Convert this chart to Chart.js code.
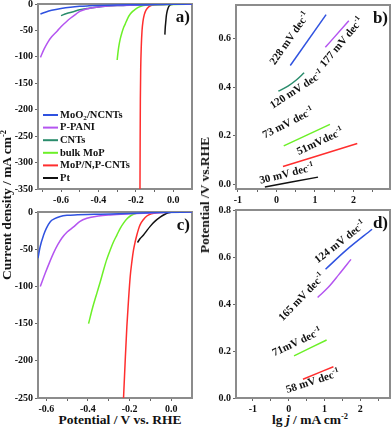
<!DOCTYPE html>
<html>
<head>
<meta charset="utf-8">
<script src="https://cdn.jsdelivr.net/npm/chart.js@4.4.0/dist/chart.umd.min.js"></script>
<style>
  body { margin:0; background:#fff; width:392px; height:430px; position:relative; overflow:hidden; font-family:"Liberation Serif","Times New Roman",serif; }
  canvas { position:absolute; }
  .t { position:absolute; font-weight:bold; font-size:13.5px; white-space:nowrap; color:#111; transform:translate(-50%,-50%); }
  .t.rot { transform:translate(-50%,-50%) rotate(-90deg); }
  .t sup { font-size:0.62em; vertical-align:0.55em; line-height:0; }
</style>
</head>
<body>
<canvas id="ca" width="200" height="206" style="left:0;top:0"></canvas>
<canvas id="cb" width="192" height="206" style="left:200px;top:0"></canvas>
<canvas id="cc" width="200" height="206" style="left:0;top:206px"></canvas>
<canvas id="cd" width="192" height="206" style="left:200px;top:206px"></canvas>
<div class="t rot" style="left:7px;top:205px">Current density / mA cm<sup>-2</sup></div>
<div class="t rot" style="left:205px;top:195px">Potential /V vs.RHE</div>
<div class="t" style="left:120px;top:420px">Potential / V vs. RHE</div>
<div class="t" style="left:310px;top:420px">lg <i>j</i> / mA cm<sup>-2</sup></div>
<script>
// series labels (legend of panel a)
const seriesNames = ['MoO_2/NCNTs', 'P-PANI', 'CNTs', 'bulk MoP', 'MoP/N,P-CNTs', 'Pt'];
const seriesColors = ['#2f52e0', '#b455f0', '#2a8c6c', '#6cf028', '#ff2e2e', '#111111'];

// panel a: polarization curves [potential V, current mA cm-2]
const aMoO2 = [[-0.71,-19],[-0.68,-15],[-0.65,-12],[-0.6,-8.5],[-0.55,-6],[-0.5,-4.4],[-0.45,-3.5],[-0.4,-2.8],[-0.3,-2],[-0.2,-1.5],[-0.1,-1],[0,-0.5],[0.1,0]];
const aPPANI = [[-0.71,-101],[-0.69,-85],[-0.67,-72],[-0.65,-62],[-0.62,-51],[-0.6,-43],[-0.57,-33],[-0.55,-27],[-0.52,-19],[-0.5,-14],[-0.47,-10],[-0.44,-7.5],[-0.4,-5.5],[-0.35,-4],[-0.3,-3],[-0.2,-2],[-0.1,-1],[0,-0.5],[0.1,0]];
const aCNTs = [[-0.6,-22],[-0.57,-18],[-0.54,-15],[-0.5,-11],[-0.45,-8],[-0.4,-5.5],[-0.35,-4],[-0.3,-3],[-0.25,-2.5],[-0.2,-2],[-0.1,-1],[0,-0.3],[0.1,0]];
const aBulkMoP = [[-0.3,-106],[-0.295,-90],[-0.29,-78],[-0.284,-67],[-0.275,-55],[-0.265,-44],[-0.257,-38],[-0.245,-28],[-0.23,-19],[-0.21,-12],[-0.19,-7],[-0.17,-4],[-0.15,-2.5],[-0.1,-1.5],[0,-0.8],[0.1,0]];
const aMoPNP = [[-0.178,-350],[-0.177,-250],[-0.176,-180],[-0.174,-120],[-0.171,-80],[-0.167,-50],[-0.162,-33],[-0.155,-20],[-0.145,-11],[-0.13,-5],[-0.11,-2],[-0.08,-0.8],[0,-0.2],[0.1,0]];
const aPt = [[-0.045,-58],[-0.043,-45],[-0.04,-33],[-0.037,-22],[-0.033,-14],[-0.027,-7],[-0.02,-3],[-0.01,-1],[0,-0.3],[0.1,0]];

// panel b: Tafel plots [lg j, potential V]
const bMoO2 = [[0.36,0.49],[1.29,0.70]];
const bPPANI = [[1.27,0.565],[1.88,0.675]];
const bCNTs = [[0.05,0.384],[0.3,0.405],[0.5,0.428],[0.72,0.46]];
const bBulkMoP = [[0.19,0.158],[1.39,0.247]];
const bMoPNP = [[0.17,0.073],[2.1,0.168]];
const bPt = [[-0.3,-0.012],[1.08,0.029]];
const bSlopes = ['228 mV dec^-1', '177 mV dec^-1', '120 mV dec^-1', '73 mV dec^-1', '51mVdec^-1', '30 mV dec^-1'];

// panel c: polarization curves
const cMoO2 = [[-0.64,-62],[-0.63,-47],[-0.613,-31],[-0.6,-22],[-0.581,-13],[-0.56,-9],[-0.533,-6],[-0.5,-4.5],[-0.45,-3.8],[-0.4,-3.3],[-0.34,-3],[-0.25,-2.2],[-0.15,-1.5],[-0.05,-0.6],[0.1,0]];
const cPPANI = [[-0.629,-100],[-0.605,-82],[-0.585,-68],[-0.565,-55],[-0.545,-44],[-0.525,-35],[-0.5,-27],[-0.469,-20],[-0.44,-13],[-0.405,-8.5],[-0.35,-5.5],[-0.293,-4],[-0.2,-2.5],[-0.1,-1.2],[0,-0.3],[0.1,0]];
const cBulkMoP = [[-0.397,-150],[-0.378,-129],[-0.357,-109],[-0.34,-93],[-0.325,-78],[-0.31,-64],[-0.293,-51],[-0.277,-40],[-0.261,-31],[-0.245,-22],[-0.229,-15],[-0.21,-8.5],[-0.189,-4],[-0.17,-2],[-0.149,-1],[-0.1,-0.3],[0.1,0]];
const cMoPNP = [[-0.229,-250],[-0.221,-200],[-0.213,-154],[-0.205,-118],[-0.197,-87],[-0.189,-67],[-0.181,-51],[-0.173,-40],[-0.165,-31],[-0.157,-23],[-0.149,-17],[-0.133,-10],[-0.117,-5.4],[-0.095,-2.5],[-0.069,-1],[-0.03,-0.3],[0.1,0]];
const cPt = [[-0.162,-41],[-0.15,-36],[-0.133,-31],[-0.117,-25],[-0.1,-19],[-0.08,-13],[-0.053,-7],[-0.03,-3],[-0.013,-1],[0,-0.3],[0.1,0]];

// panel d: Tafel plots
const dMoO2 = [[1.03,0.548],[1.6,0.628],[2.33,0.718]];
const dPPANI = [[0.81,0.428],[1.1,0.47],[1.4,0.525],[1.74,0.59]];
const dBulkMoP = [[0.15,0.179],[1.06,0.247]];
const dMoPNP = [[0.4,0.08],[1.25,0.133]];
const dSlopes = ['124 mV dec^-1', '165 mV dec^-1', '71mV dec^-1', '58 mV dec^-1'];

// ticks
const lsvXTicks = [-0.6, -0.4, -0.2, 0.0];
const lsvXMinor = [-0.7, -0.5, -0.3, -0.1];
const aYTicks = [0, -50, -100, -150, -200, -250, -300, -350];
const cYTicks = [0, -50, -100, -150, -200, -250];
const tafelXTicks = [-1, 0, 1, 2];
const tafelXMinor = [-0.5, 0.5, 1.5, 2.5];
const bYTicks = [0.0, 0.2, 0.4, 0.6];
const dYTicks = [0.0, 0.2, 0.4, 0.6, 0.8];

// label placement (data coords, angle in degrees)
const bNotePos = [[0.35,0.60,-55],[1.70,0.585,-50],[0.53,0.389,-33],[0.31,0.251,-27],[1.14,0.175,-25],[0.27,0.041,-14]];
const dNotePos = [[1.44,0.662,-38],[0.375,0.428,-46],[0.236,0.236,-25],[0.675,0.069,-18]];

const FONT = '"Liberation Serif","Times New Roman",serif';

function parseRich(s) {
  const parts = [];
  const re = /([\^_])(-?\d+)/g;
  let last = 0, m;
  while ((m = re.exec(s))) {
    if (m.index > last) parts.push([s.slice(last, m.index), 0]);
    parts.push([m[2], m[1] === '^' ? 1 : -1]);
    last = re.lastIndex;
  }
  if (last < s.length) parts.push([s.slice(last), 0]);
  return parts;
}

function drawRich(ctx, s, x, y, size, align) {
  const parts = parseRich(s);
  const fontOf = mode => `bold ${mode ? size * 0.68 : size}px ${FONT}`;
  let w = 0;
  parts.forEach(p => { ctx.font = fontOf(p[1]); w += ctx.measureText(p[0]).width; });
  let cx = align === 'center' ? x - w / 2 : x;
  ctx.textBaseline = 'middle';
  ctx.textAlign = 'left';
  parts.forEach(p => {
    ctx.font = fontOf(p[1]);
    const dy = p[1] === 1 ? -size * 0.35 : p[1] === -1 ? size * 0.3 : 0;
    ctx.fillText(p[0], cx, y + dy);
    cx += ctx.measureText(p[0]).width;
  });
}

const framePlugin = {
  id: 'frame',
  beforeDatasetsDraw(chart) {
    const { ctx, chartArea: a } = chart;
    ctx.save();
    ctx.strokeStyle = '#8c8c8c';
    ctx.lineWidth = 2;
    ctx.strokeRect(a.left, a.top, a.right - a.left, a.bottom - a.top);
    ctx.restore();
  }
};

const notesPlugin = {
  id: 'notes',
  afterDraw(chart, args, opts) {
    const { ctx, chartArea: a, scales } = chart;
    ctx.save();
    ctx.fillStyle = '#111';
    (opts.notes || []).forEach((n, i) => {
      const [x, y, rot] = opts.pos[i];
      ctx.save();
      ctx.translate(scales.x.getPixelForValue(x), scales.y.getPixelForValue(y));
      ctx.rotate(rot * Math.PI / 180);
      drawRich(ctx, n, 0, 0, 11, 'center');
      ctx.restore();
    });
    if (opts.tag) {
      ctx.font = `bold 17px ${FONT}`;
      ctx.textAlign = 'right';
      ctx.textBaseline = 'middle';
      ctx.fillText(opts.tag, a.right - 2, a.top + 14);
    }
    if (opts.legend) {
      const x0 = a.left + 5, y0 = a.top + 111, dy = 12.6;
      chart.data.datasets.forEach((ds, i) => {
        const y = y0 + i * dy;
        ctx.strokeStyle = ds.borderColor;
        ctx.lineWidth = 2;
        ctx.beginPath(); ctx.moveTo(x0, y); ctx.lineTo(x0 + 15, y); ctx.stroke();
        drawRich(ctx, ds.label, x0 + 17, y, 10.5, 'left');
      });
    }
    ctx.restore();
  }
};

function toDatasets(list, colorIdx) {
  return list.map((pts, i) => ({
    label: seriesNames[colorIdx[i]],
    data: pts.map(([x, y]) => ({ x, y })),
    borderColor: seriesColors[colorIdx[i]],
    backgroundColor: seriesColors[colorIdx[i]],
    borderWidth: 1.5,
    showLine: true,
    pointRadius: 0,
    cubicInterpolationMode: 'monotone'
  }));
}

function axis(min, max, ticks, minor, fmt, size, horizontal) {
  const all = ticks.concat(minor || []).filter(v => v >= Math.min(min, max) && v <= Math.max(min, max));
  return {
    type: 'linear', min, max,
    afterBuildTicks(s) { s.ticks = all.sort((p, q) => p - q).map(v => ({ value: v })); },
    afterFit(s) {
      if (horizontal) s.height = size; else s.width = size;
      s.paddingTop = s.paddingBottom = s.paddingLeft = s.paddingRight = 0;
    },
    ticks: {
      autoSkip: false, maxRotation: 0, padding: 2, color: '#111',
      font: { family: FONT, size: 10, weight: 'bold' },
      callback: v => ticks.some(t => Math.abs(t - v) < 1e-9) ? fmt(v) : ''
    },
    grid: { drawOnChartArea: false, tickLength: 3, color: '#666', lineWidth: 1 },
    border: { display: false }
  };
}

function panel(id, datasets, xa, ya, pad, notesOpts) {
  return new Chart(document.getElementById(id), {
    type: 'scatter',
    data: { datasets },
    options: {
      responsive: false,
      animation: false,
      layout: { padding: pad },
      plugins: { legend: { display: false }, tooltip: { enabled: false }, notes: notesOpts },
      scales: { x: xa, y: ya }
    },
    plugins: [framePlugin, notesPlugin]
  });
}

const f1 = v => v.toFixed(1);
const f0 = v => String(Math.round(v));

panel('ca', toDatasets([aMoO2, aPPANI, aCNTs, aBulkMoP, aMoPNP, aPt], [0,1,2,3,4,5]),
  axis(-0.723, 0.1, lsvXTicks, lsvXMinor, f1, 17, true),
  axis(-350, 0, aYTicks, null, f0, 38, false),
  { top: 4, right: 8, left: 0, bottom: 0 },
  { tag: 'a)', legend: true, notes: [], pos: [] });

panel('cb', toDatasets([bMoO2, bPPANI, bCNTs, bBulkMoP, bMoPNP, bPt], [0,1,2,3,4,5]),
  axis(-1.05, 2.95, tafelXTicks, tafelXMinor, f0, 17, true),
  axis(-0.02, 0.74, bYTicks, null, f1, 36, false),
  { top: 5, right: 2, left: 0, bottom: 0 },
  { tag: 'b)', notes: bSlopes, pos: bNotePos });

panel('cc', toDatasets([cMoO2, cPPANI, cBulkMoP, cMoPNP, cPt], [0,1,3,4,5]),
  axis(-0.64, 0.1, lsvXTicks, lsvXMinor, f1, 14, true),
  axis(-250, 0, cYTicks, null, f0, 38, false),
  { top: 6, right: 8, left: 0, bottom: 0 },
  { tag: 'c)', notes: [], pos: [] });

panel('cd', toDatasets([dMoO2, dPPANI, dBulkMoP, dMoPNP], [0,1,3,4]),
  axis(-1.47, 2.83, tafelXTicks, tafelXMinor, f0, 14, true),
  axis(0, 0.8, dYTicks, null, f1, 36, false),
  { top: 4, right: 2, left: 0, bottom: 0 },
  { tag: 'd)', notes: dSlopes, pos: dNotePos });
</script>
</body>
</html>
